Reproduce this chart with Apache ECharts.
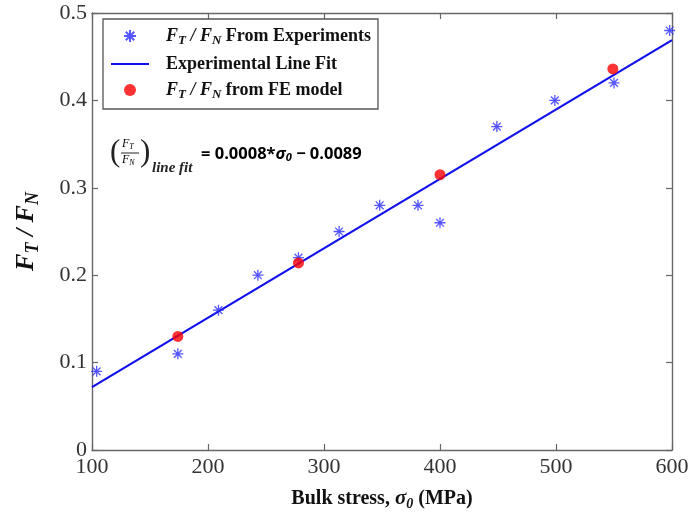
<!DOCTYPE html>
<html>
<head>
<meta charset="utf-8">
<script src="https://cdn.jsdelivr.net/npm/echarts@6/dist/echarts.min.js"></script>
<style>
html,body{margin:0;padding:0;background:#fff;}
#c{width:692px;height:525px;}
</style>
</head>
<body>
<div id="c"></div>
<script>
// Data
const xExp = [104, 174, 209, 243, 278, 313, 348, 381, 400, 449, 499, 550, 598];
const yExp = [0.09, 0.11, 0.16, 0.20, 0.22, 0.25, 0.28, 0.28, 0.26, 0.37, 0.40, 0.42, 0.48];
const xFE = [174, 278, 400, 549];
const yFE = [0.13, 0.214, 0.315, 0.436];
const xFit = [100, 600];
const yFit = [0.072, 0.469];
const xTicks = [100, 200, 300, 400, 500, 600];
const yTicks = [0, 0.1, 0.2, 0.3, 0.4, 0.5];

const serif = 'Liberation Serif';
const zip = (a, b) => a.map((v, i) => [v, b[i]]);
const asterisk = 'path://M0,-10L0,10M-10,0L10,0M-7.07,-7.07L7.07,7.07M-7.07,7.07L7.07,-7.07';

const legendRich = {
  f: {fontFamily: serif, fontStyle: 'italic', fontWeight: 'bold', fontSize: 18, color: '#111'},
  s: {fontFamily: serif, fontStyle: 'italic', fontWeight: 'bold', fontSize: 13, color: '#111', padding: [9, 0, 0, 0]},
  t: {fontFamily: serif, fontWeight: 'bold', fontSize: 18, color: '#111'}
};
const legendText = {
  exp: '{f|F}{s|T}{f| / F}{s|N}{t| From Experiments}',
  fit: '{t|Experimental Line Fit}',
  fe: '{f|F}{s|T}{f| / F}{s|N}{t| from FE model}'
};

const axisCommon = {
  type: 'value',
  axisLine: {show: true, onZero: false, lineStyle: {color: '#666', width: 1.4}},
  axisTick: {show: true, inside: true, length: 6, lineStyle: {color: '#666', width: 1.2}},
  splitLine: {show: false}
};

const chart = echarts.init(document.getElementById('c'), null, {renderer: 'canvas'});
chart.setOption({
  animation: false,
  backgroundColor: '#fff',
  grid: {left: 92, right: 20, top: 13, bottom: 75},
  xAxis: [
    Object.assign({}, axisCommon, {
      position: 'bottom', min: xTicks[0], max: xTicks[xTicks.length - 1], interval: 100,
      axisLabel: {fontFamily: serif, fontSize: 22, color: '#333', margin: 6},
      name: '{b|Bulk stress, }{g|σ}{z|0}{b| (MPa)}',
      nameLocation: 'middle', nameGap: 37,
      nameTextStyle: {
        rich: {
          b: {fontFamily: serif, fontWeight: 'bold', fontSize: 20, color: '#111'},
          g: {fontFamily: serif, fontStyle: 'italic', fontWeight: 'bold', fontSize: 21, color: '#111'},
          z: {fontFamily: serif, fontStyle: 'italic', fontWeight: 'bold', fontSize: 14, color: '#111', padding: [10, 0, 0, 0]}
        }
      }
    }),
    Object.assign({}, axisCommon, {
      position: 'top', min: xTicks[0], max: xTicks[xTicks.length - 1], interval: 100,
      axisLabel: {show: false}
    })
  ],
  yAxis: [
    Object.assign({}, axisCommon, {
      position: 'left', min: yTicks[0], max: yTicks[yTicks.length - 1], interval: 0.1,
      axisLabel: {fontFamily: serif, fontSize: 22, color: '#333', margin: 5},
      name: '{f|F}{s|T}{f| / F}{s|N}',
      nameLocation: 'middle', nameGap: 50, nameRotate: 90,
      nameTextStyle: {
        rich: {
          f: {fontFamily: serif, fontStyle: 'italic', fontWeight: 'bold', fontSize: 26, color: '#111'},
          s: {fontFamily: serif, fontStyle: 'italic', fontWeight: 'bold', fontSize: 18, color: '#111', padding: [13, 0, 0, 0]}
        }
      }
    }),
    Object.assign({}, axisCommon, {
      position: 'right', min: yTicks[0], max: yTicks[yTicks.length - 1], interval: 0.1,
      axisLabel: {show: false}
    })
  ],
  legend: {
    orient: 'vertical', left: 103, top: 19,
    padding: [8, 7, 8, 7],
    itemWidth: 38, itemHeight: 12, itemGap: 8,
    borderColor: '#555', borderWidth: 1.3, backgroundColor: '#fff',
    data: ['exp', {name: 'fit', itemStyle: {opacity: 0, color: 'rgba(0,0,0,0)'}}, 'fe'],
    formatter: n => legendText[n],
    textStyle: {fontFamily: serif, fontWeight: 'bold', fontSize: 18, color: '#111', padding: [0, 0, 0, 12], rich: legendRich}
  },
  series: [
    {
      name: 'exp', type: 'scatter', data: zip(xExp, yExp),
      symbol: asterisk, symbolSize: 11,
      itemStyle: {color: 'rgba(0,0,0,0)', borderColor: '#2a2cff', borderWidth: 1.3},
      z: 3
    },
    {
      name: 'fit', type: 'line', data: zip(xFit, yFit),
      symbol: 'none', lineStyle: {color: '#1010ee', width: 2.2},
      itemStyle: {color: '#1010ee'},
      z: 2
    },
    {
      name: 'fe', type: 'scatter', data: zip(xFE, yFE),
      symbol: 'circle', symbolSize: 11,
      itemStyle: {color: '#ff0000'},
      z: 4
    }
  ],
  graphic: [
    {type: 'text', left: 110, top: 137, style: {text: '(', font: '31px "Liberation Serif"', fill: '#222'}},
    {type: 'text', left: 140, top: 137, style: {text: ')', font: '31px "Liberation Serif"', fill: '#222'}},
    {type: 'text', left: 122, top: 138, style: {text: '{f|F}{s|T}', rich: {
      f: {fontFamily: serif, fontStyle: 'italic', fontSize: 12, color: '#111'},
      s: {fontFamily: serif, fontStyle: 'italic', fontSize: 8, color: '#111', padding: [5, 0, 0, 0]}}}},
    {type: 'line', shape: {x1: 121, y1: 153, x2: 139, y2: 153}, style: {stroke: '#222', lineWidth: 1}},
    {type: 'text', left: 122, top: 154, style: {text: '{f|F}{s|N}', rich: {
      f: {fontFamily: serif, fontStyle: 'italic', fontSize: 12, color: '#111'},
      s: {fontFamily: serif, fontStyle: 'italic', fontSize: 8, color: '#111', padding: [5, 0, 0, 0]}}}},
    {type: 'text', left: 152, top: 161, style: {text: 'line fit', font: 'italic bold 15px "Liberation Serif"', fill: '#222'}},
    {type: 'text', left: 201, top: 146, style: {text: '{a|= 0.0008*}{g|σ}{z|0}{a| − 0.0089}', rich: {
      a: {fontFamily: 'Open Sans', fontWeight: 'bold', fontSize: 16.5, color: '#111'},
      g: {fontFamily: 'Open Sans', fontStyle: 'italic', fontWeight: 'bold', fontSize: 16.5, color: '#111'},
      z: {fontFamily: 'Open Sans', fontStyle: 'italic', fontWeight: 'bold', fontSize: 11, color: '#111', padding: [7, 0, 0, 0]}}}}
  ]
});
</script>
</body>
</html>
